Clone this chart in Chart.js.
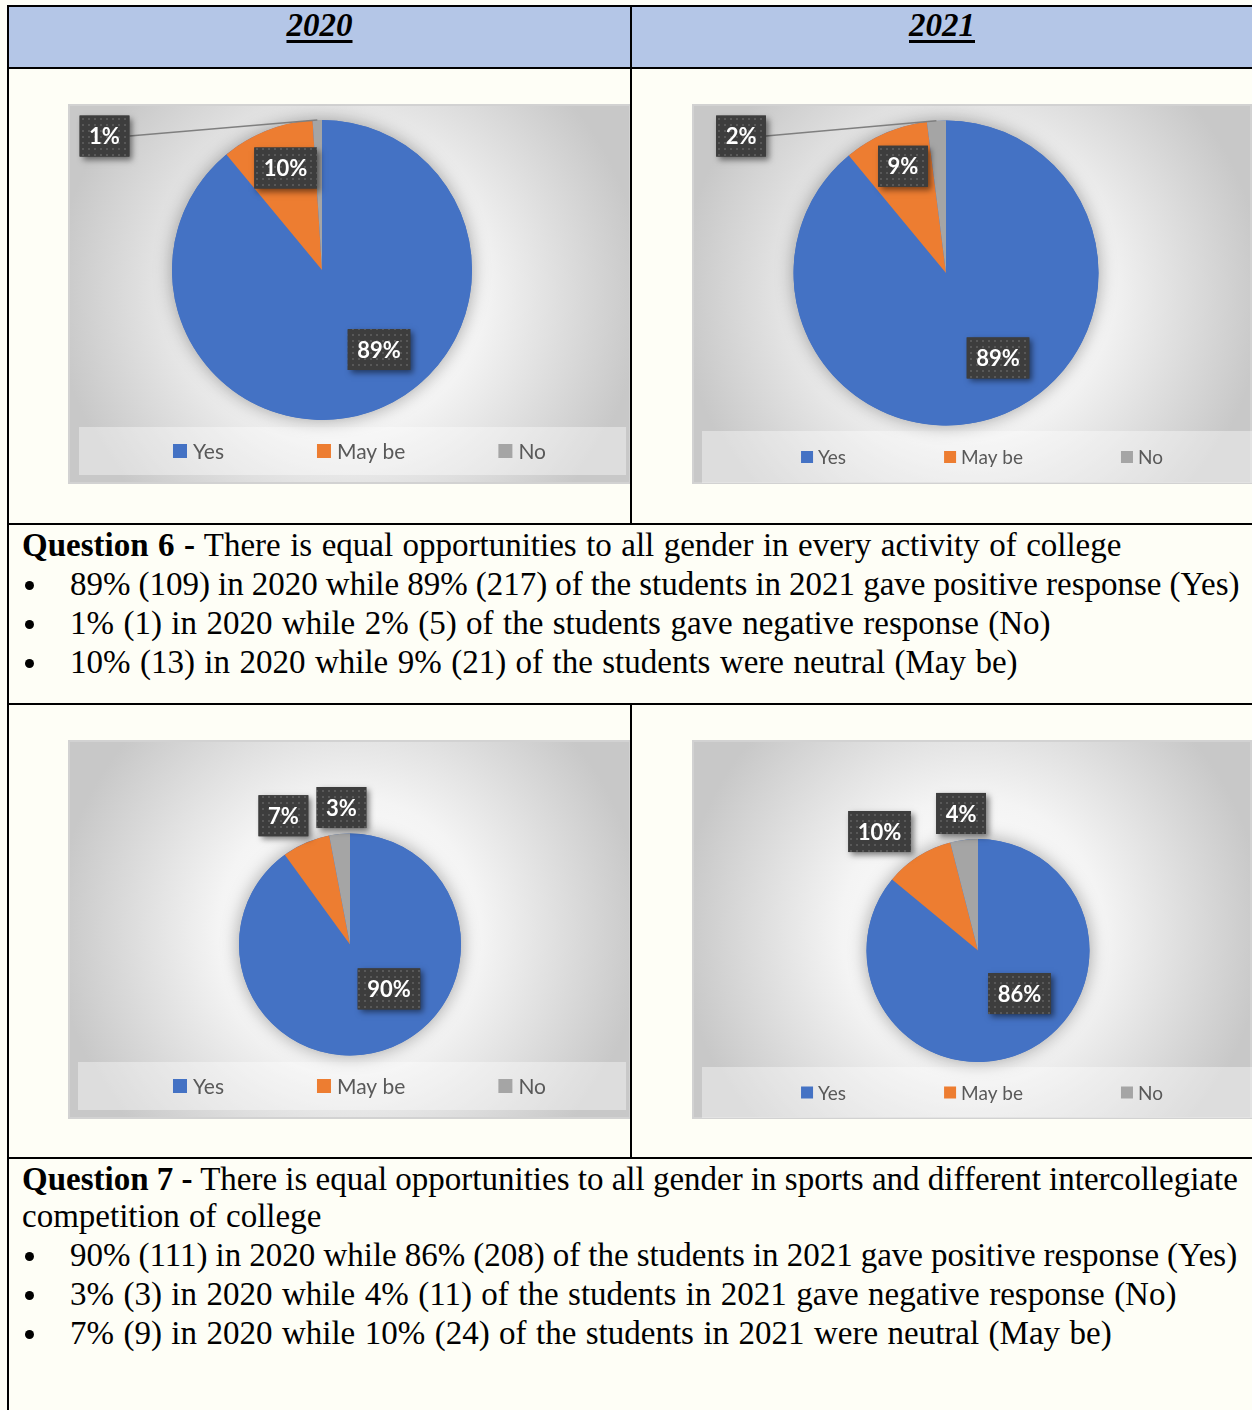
<!DOCTYPE html>
<html>
<head>
<meta charset="utf-8">
<script src="https://cdn.jsdelivr.net/npm/chart.js@4.4.1/dist/chart.umd.min.js"></script>
<style>
html,body{margin:0;padding:0;background:#FEFEF6;}
#page{position:relative;width:1252px;height:1410px;overflow:hidden;background:#FEFEF6;font-family:"Liberation Serif","Times New Roman",serif;color:#000;}
.hdr{position:absolute;top:7px;height:60px;background:#B4C6E7;}
.ln{position:absolute;background:#000;z-index:5;}
.yr{position:absolute;top:6px;height:39px;line-height:39px;text-align:center;font-weight:bold;font-style:italic;font-size:33px;}
.yr span{text-decoration:underline;text-decoration-thickness:3px;text-underline-offset:4px;}
canvas{position:absolute;}
.t{position:absolute;white-space:nowrap;font-size:33px;line-height:39px;word-spacing:1.2px;}
.tl{position:absolute;white-space:nowrap;font-size:33px;line-height:39px;word-spacing:-0.2px;}
.j{position:absolute;font-size:33px;line-height:39px;text-align:justify;text-align-last:justify;white-space:nowrap;}
.dot{position:absolute;width:9px;height:9px;border-radius:50%;background:#000;}
</style>
</head>
<body>
<div id="page">
  <div class="hdr" style="left:9px;width:1243px;"></div>
  <div class="yr" id="y0" style="left:9px;width:621px;"></div>
  <div class="yr" id="y1" style="left:632px;width:620px;"></div>

  <canvas id="c1" width="563" height="380" style="left:68px;top:104px;"></canvas>
  <canvas id="c2" width="560" height="380" style="left:692px;top:104px;"></canvas>
  <canvas id="c3" width="563" height="379" style="left:68px;top:740px;"></canvas>
  <canvas id="c4" width="560" height="379" style="left:692px;top:740px;"></canvas>

  <div id="q6"></div>
  <div id="q7"></div>

  <div class="ln" style="left:7px;top:5px;width:1245px;height:2px;"></div>
  <div class="ln" style="left:7px;top:5px;width:2px;height:1405px;"></div>
  <div class="ln" style="left:7px;top:67px;width:1245px;height:2px;"></div>
  <div class="ln" style="left:630px;top:5px;width:2px;height:520px;"></div>
  <div class="ln" style="left:7px;top:523px;width:1245px;height:2px;"></div>
  <div class="ln" style="left:7px;top:703px;width:1245px;height:2px;"></div>
  <div class="ln" style="left:630px;top:703px;width:2px;height:456px;"></div>
  <div class="ln" style="left:7px;top:1157px;width:1245px;height:2px;"></div>
</div>
<script>
// ---------- data ----------
const years = ['2020', '2021'];
const categories = ['Yes', 'May be', 'No'];
const q6_2020 = [89, 10, 1];
const q6_2021 = [89, 9, 2];
const q7_2020 = [90, 7, 3];
const q7_2021 = [86, 10, 4];
const colors = ['#4472C4', '#ED7D31', '#A5A5A5'];

const q6Title = 'Question 6 -';
const q6Text = ' There is equal opportunities to all gender in every activity of college';
const q6Bullets = [
  '89% (109) in 2020 while 89% (217) of the students in 2021 gave positive response (Yes)',
  '1% (1) in 2020 while 2% (5) of the students gave negative response (No)',
  '10% (13) in 2020 while 9% (21) of the students were neutral (May be)'
];
const q7Title = 'Question 7 -';
const q7Text1 = ' There is equal opportunities to all gender in sports and different intercollegiate';
const q7Text2 = 'competition of college';
const q7Bullets = [
  '90% (111) in 2020 while 86% (208) of the students in 2021 gave positive response (Yes)',
  '3% (3) in 2020 while 4% (11) of the students in 2021 gave negative response (No)',
  '7% (9) in 2020 while 10% (24) of the students in 2021 were neutral (May be)'
];

// ---------- text ----------
document.getElementById('y0').innerHTML = '<span>' + years[0] + '</span>';
document.getElementById('y1').innerHTML = '<span>' + years[1] + '</span>';
const BASE = 30.7;
function esc(s) { const d = document.createElement('span'); d.textContent = s; return d.innerHTML; }
function addLine(parent, html, base, left, cls, width) {
  const d = document.createElement('div');
  d.className = cls || 't';
  d.style.top = (base - BASE) + 'px';
  d.style.left = left + 'px';
  if (width) d.style.width = width + 'px';
  d.innerHTML = html;
  parent.appendChild(d);
}
function addBullet(parent, text, base, cls) {
  const dot = document.createElement('div');
  dot.className = 'dot';
  dot.style.left = '25px';
  dot.style.top = (base - 15) + 'px';
  parent.appendChild(dot);
  addLine(parent, esc(text), base, 70, cls);
}
(function(){
  const p6 = document.getElementById('q6');
  addLine(p6, '<b>' + q6Title + '</b>' + esc(q6Text), 557, 22, 't');
  q6Bullets.forEach((b, i) => addBullet(p6, b, 596 + 39 * i, i === 0 ? 'tl' : 't'));
  const p7 = document.getElementById('q7');
  addLine(p7, '<b>' + q7Title + '</b>' + esc(q7Text1), 1191, 22, 'j', 1215);
  addLine(p7, esc(q7Text2), 1228, 22, 't');
  q7Bullets.forEach((b, i) => addBullet(p7, b, 1267 + 39 * i, i === 0 ? 'tl' : 't'));
})();

// ---------- chart styling ----------
function makePattern() {
  const pc = document.createElement('canvas');
  pc.width = 6; pc.height = 6;
  const x = pc.getContext('2d');
  x.fillStyle = '#3d3d3d'; x.fillRect(0, 0, 6, 6);
  x.fillStyle = '#585858'; x.fillRect(2, 2, 2, 2);
  return pc;
}

const deco = {
  id: 'deco',
  beforeDraw(chart, args, o) {
    const {ctx, width: w, height: h} = chart;
    ctx.save();
    const g = ctx.createRadialGradient(w / 2, h / 2, 0, w / 2, h / 2, w * 0.52);
    g.addColorStop(0, '#ffffff');
    g.addColorStop(0.45, '#f4f4f4');
    g.addColorStop(1, '#c8c8c8');
    ctx.fillStyle = g;
    ctx.fillRect(0, 0, w, h);
    ctx.strokeStyle = '#d2d2d2';
    ctx.lineWidth = 2;
    ctx.strokeRect(1, 1, w - 2, h - 2);
    const lb = o.legendBox;
    ctx.fillStyle = 'rgba(255,255,255,0.38)';
    ctx.fillRect(lb.x, lb.y, lb.w, lb.h);
    ctx.restore();
  },
  beforeDatasetsDraw(chart) {
    const arc = chart.getDatasetMeta(0).data[0];
    const ctx = chart.ctx;
    ctx.save();
    ctx.shadowColor = 'rgba(0,0,0,0.35)';
    ctx.shadowBlur = 18;
    ctx.fillStyle = colors[0];
    ctx.beginPath();
    ctx.arc(arc.x, arc.y, arc.outerRadius, 0, Math.PI * 2);
    ctx.fill();
    ctx.restore();
  },
  afterDatasetsDraw(chart, args, o) {
    const ctx = chart.ctx;
    const meta = chart.getDatasetMeta(0);
    const pat = ctx.createPattern(makePattern(), 'repeat');
    meta.data.forEach((arc, i) => {
      const lp = o.labelPos[i];
      const r = arc.outerRadius;
      const cx = arc.x + lp[0] * r, cy = arc.y + lp[1] * r;
      const txt = chart.data.datasets[0].data[i] + '%';
      ctx.save();
      ctx.font = 'bold 22px Lato';
      const tw = ctx.measureText(txt).width;
      const bw = tw + 19, bh = 41;
      const bx = cx - bw / 2, by = cy - bh / 2;
      if (lp[2]) {
        const mid = (arc.startAngle + arc.endAngle) / 2;
        ctx.strokeStyle = '#7f7f7f';
        ctx.lineWidth = 1.5;
        ctx.beginPath();
        ctx.moveTo(bx + bw, cy);
        ctx.lineTo(arc.x + Math.cos(mid) * r, arc.y + Math.sin(mid) * r);
        ctx.stroke();
      }
      ctx.shadowColor = 'rgba(0,0,0,0.5)';
      ctx.shadowBlur = 6;
      ctx.shadowOffsetX = 3;
      ctx.shadowOffsetY = 3;
      ctx.fillStyle = '#3d3d3d';
      ctx.fillRect(bx, by, bw, bh);
      ctx.shadowColor = 'transparent';
      ctx.fillStyle = pat;
      ctx.fillRect(bx, by, bw, bh);
      ctx.fillStyle = '#ffffff';
      ctx.textAlign = 'center';
      ctx.textBaseline = 'middle';
      ctx.fillText(txt, cx, cy + 1);
      ctx.restore();
    });
  },
  afterDraw(chart, args, o) {
    const ctx = chart.ctx;
    const L = o.legend, lb = o.legendBox;
    const labels = chart.data.labels;
    const cols = chart.data.datasets[0].backgroundColor;
    ctx.save();
    ctx.font = L.font + 'px Lato';
    const widths = labels.map(t => L.box + L.textGap + ctx.measureText(t).width);
    const total = widths.reduce((a, b) => a + b, 0) + L.gap * (labels.length - 1);
    let x = chart.width / 2 + L.shift - total / 2;
    const y = lb.y + lb.h / 2;
    labels.forEach((t, i) => {
      ctx.fillStyle = cols[i];
      ctx.fillRect(x, y - L.box / 2, L.box, L.box);
      ctx.fillStyle = '#595959';
      ctx.textAlign = 'left';
      ctx.textBaseline = 'middle';
      ctx.fillText(t, x + L.box + L.textGap, y + 1);
      x += widths[i] + L.gap;
    });
    ctx.restore();
  }
};

const legend2020 = {font: 21, box: 14, textGap: 6, gap: 93, shift: 10};
const legend2021 = {font: 19, box: 12, textGap: 5, gap: 98, shift: 10};

const setups = [
  {id: 'c1', values: q6_2020, pad: {top: 16, bottom: 64, left: 104, right: 159},
   legend: legend2020, legendBox: {x: 11, y: 323, w: 547, h: 48},
   labelPos: [[0.38, 0.53, false], [-0.243, -0.68, false], [-1.45, -0.893, true]]},
  {id: 'c2', values: q6_2021, pad: {top: 16.5, bottom: 58.5, left: 101.5, right: 153.5},
   legend: legend2021, legendBox: {x: 10, y: 327, w: 550, h: 52},
   labelPos: [[0.341, 0.557, false], [-0.282, -0.70, false], [-1.344, -0.898, true]]},
  {id: 'c3', values: q7_2020, pad: {top: 93.5, bottom: 63.5, left: 171, right: 170},
   legend: legend2020, legendBox: {x: 10, y: 322, w: 548, h: 48},
   labelPos: [[0.351, 0.40, false], [-0.60, -1.16, false], [-0.077, -1.234, false]]},
  {id: 'c4', values: q7_2021, pad: {top: 99, bottom: 57, left: 174.5, right: 162.5},
   legend: legend2021, legendBox: {x: 10, y: 327, w: 550, h: 51},
   labelPos: [[0.372, 0.386, false], [-0.883, -1.067, false], [-0.152, -1.229, false]]}
];

function build() {
  setups.forEach(s => {
    new Chart(document.getElementById(s.id), {
      type: 'pie',
      data: {
        labels: categories,
        datasets: [{data: s.values, backgroundColor: colors, borderWidth: 0}]
      },
      options: {
        responsive: false,
        animation: false,
        devicePixelRatio: 1,
        layout: {padding: s.pad},
        plugins: {
          legend: {display: false},
          tooltip: {enabled: false},
          deco: {legend: s.legend, legendBox: s.legendBox, labelPos: s.labelPos}
        }
      },
      plugins: [deco]
    });
  });
}
Promise.all([
  document.fonts.load('bold 22px Lato'),
  document.fonts.load('21px Lato'),
  document.fonts.load('19px Lato')
]).then(build, build);
</script>
</body>
</html>
